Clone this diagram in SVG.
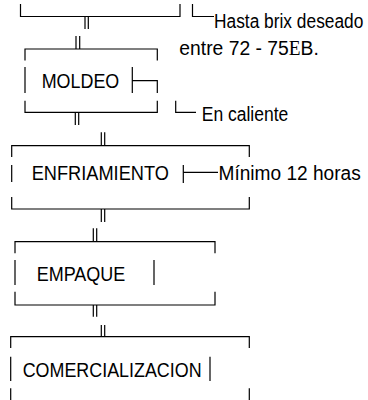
<svg xmlns="http://www.w3.org/2000/svg" width="368" height="400" viewBox="0 0 368 400">
<style>
.ln{fill:none;stroke:#000;stroke-width:1.2}
.t{font-family:"Liberation Sans",Arial,sans-serif;font-size:21px;fill:#000}
.s{font-family:"Liberation Serif","Times New Roman",serif}
</style>
<rect width="368" height="400" fill="#fff"/>
<g id="node-top">
<path class="ln" d="M20.5,4 V16.5 H180 V4"/>
</g>
<g id="note-hasta">
<path class="ln" d="M192.5,4 V16.5 H214"/>
<text class="t" transform="translate(214 27.7) scale(0.826 1)">Hasta brix deseado</text>
</g>
<g id="note-entre">
<text class="t" transform="translate(179.3 54.7) scale(0.92 1)">entre 72 - 75<tspan class="s">E</tspan>B.</text>
</g>
<g id="node-moldeo">
<path class="ln" d="M25,60.5 V49 H157.3 V60.5 M25,67 V93 M132.3,67 V93 M132.3,80.7 H157.3 V93 M25,100.7 V112.3 H157.3 V100.7"/>
<text class="t" transform="translate(41.7 88.3) scale(0.853 1)">MOLDEO</text>
</g>
<g id="note-caliente">
<path class="ln" d="M175.7,100.7 V112.3 H196"/>
<text class="t" transform="translate(201.7 121) scale(0.834 1)">En caliente</text>
</g>
<g id="node-enfriamiento">
<path class="ln" d="M11.7,157 V145.7 H249.3 V157 M11.7,165 V182 M183.3,165 V183 M11.7,197 V209 H249.3 V197"/>
<text class="t" transform="translate(31.7 180) scale(0.867 1)">ENFRIAMIENTO</text>
</g>
<g id="note-minimo">
<path class="ln" d="M183.3,172.3 H218"/>
<text class="t" transform="translate(218.5 180) scale(0.91 1)">Mínimo 12 horas</text>
</g>
<g id="node-empaque">
<path class="ln" d="M15,253.3 V241.7 H215 V253.3 M15,260 V285 M154,260 V285 M15,291.7 V305 H215 V291.7"/>
<text class="t" transform="translate(36.7 281) scale(0.857 1)">EMPAQUE</text>
</g>
<g id="node-comercializacion">
<path class="ln" d="M10.7,348 V336.7 H249.3 V348 M10.7,356.7 V381 M210,356.7 V381 M10.7,388.3 V400 M249.3,388.3 V400"/>
<text class="t" transform="translate(22.7 376.7) scale(0.852 1)">COMERCIALIZACION</text>
</g>
<g id="connectors">
<path class="ln" d="M85,16.5 V29 M88.3,16.5 V29"/>
<path class="ln" d="M76,36 V49 M79.7,36 V49"/>
<path class="ln" d="M75.3,112.3 V125 M78.7,112.3 V125"/>
<path class="ln" d="M101.3,132.3 V145.7 M104.7,132.3 V145.7"/>
<path class="ln" d="M101.3,209 V222 M104.7,209 V222"/>
<path class="ln" d="M93.3,228.3 V241.7 M96.7,228.3 V241.7"/>
<path class="ln" d="M93.3,305 V316.7 M96.7,305 V316.7"/>
<path class="ln" d="M101.3,325 V336.7 M104.7,325 V336.7"/>
</g>
</svg>
